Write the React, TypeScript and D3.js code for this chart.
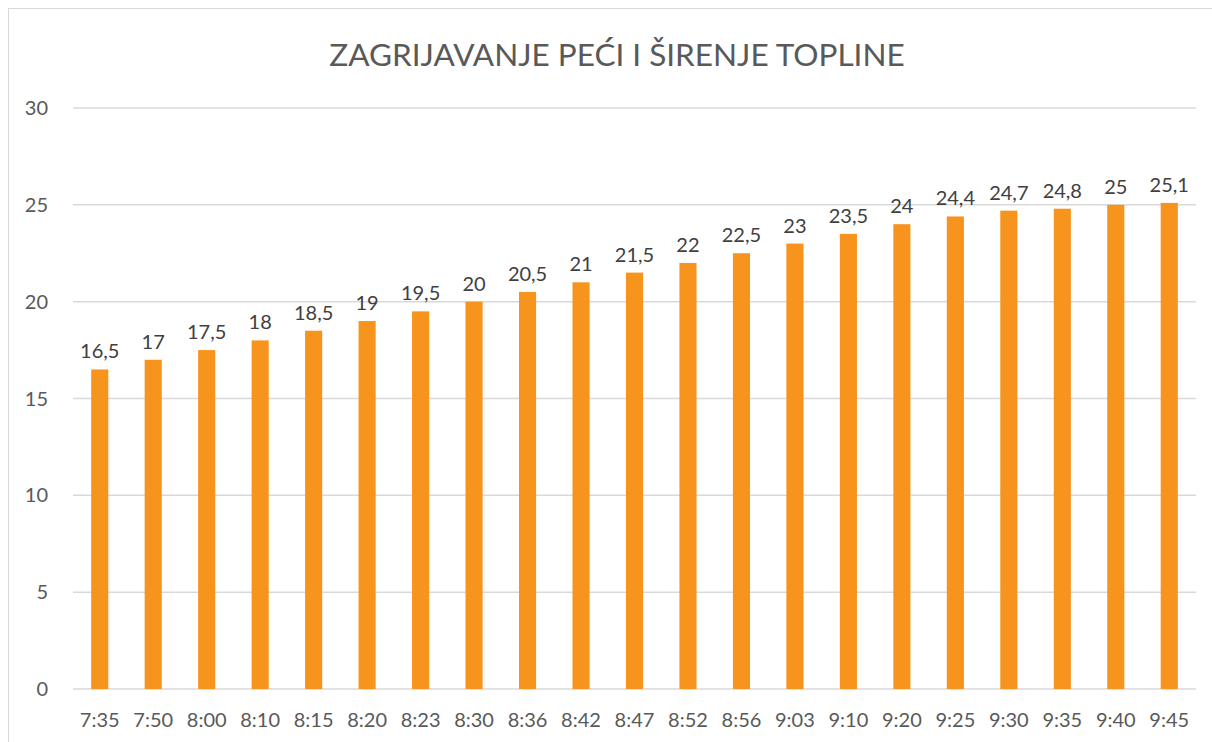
import React from "react";
import * as d3 from "d3";

const categories = ["7:35","7:50","8:00","8:10","8:15","8:20","8:23","8:30","8:36","8:42","8:47","8:52","8:56","9:03","9:10","9:20","9:25","9:30","9:35","9:40","9:45"];
const values = [16.5,17,17.5,18,18.5,19,19.5,20,20.5,21,21.5,22,22.5,23,23.5,24,24.4,24.7,24.8,25,25.1];
const yTicks = [0,5,10,15,20,25,30];
const title = "ZAGRIJAVANJE PEĆI I ŠIRENJE TOPLINE";

export default function App() {
  const W = 1212, H = 742;
  const left = 73, right = 1196, top = 108, bottom = 689;
  const x = d3.scaleBand<string>().domain(categories).range([left, right]).paddingInner(0.68).paddingOuter(0.34);
  const y = d3.scaleLinear().domain([0, 30]).range([bottom, top]);
  const font = "Lato, 'Open Sans', sans-serif";
  const fmt = (v: number) => String(v).replace(".", ",");
  return (
    <svg width={W} height={H} style={{ position: "absolute", left: 0, top: 0, background: "#fff" }}>
      <rect x={8.5} y={8.5} width={W + 10} height={H + 10} fill="#fff" stroke="#d9d9d9" strokeWidth={1} />
      <text x={617} y={66} textAnchor="middle" fontFamily={font} fontSize={31.5} fill="#595959">{title}</text>
      {yTicks.map(t => (
        <g key={t}>
          <line x1={left} x2={right} y1={y(t)} y2={y(t)} stroke="#d9d9d9" strokeWidth={1.5} />
          <text x={48} y={y(t)} dy="0.35em" textAnchor="end" fontFamily={font} fontSize={20} fill="#595959">{t}</text>
        </g>
      ))}
      {categories.map((c, i) => (
        <g key={c}>
          <rect x={x(c)} y={y(values[i])} width={x.bandwidth()} height={y(0) - y(values[i])} fill="#F7941D" />
          <text x={(x(c) as number) + x.bandwidth() / 2} y={y(values[i]) - 11} textAnchor="middle" fontFamily={font} fontSize={20} fill="#404040">{fmt(values[i])}</text>
          <text x={(x(c) as number) + x.bandwidth() / 2} y={727} textAnchor="middle" fontFamily={font} fontSize={20} fill="#595959">{c}</text>
        </g>
      ))}
    </svg>
  );
}
